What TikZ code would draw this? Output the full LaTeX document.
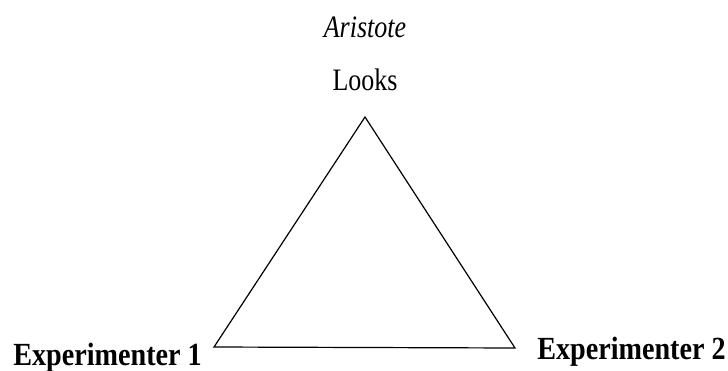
\documentclass[tikz,border=0pt]{standalone}
\usepackage{fontspec}
\setmainfont{Liberation Serif}
\usetikzlibrary{positioning}

\begin{document}
\begin{tikzpicture}[x=0.75pt, y=-0.75pt,
        node distance=4mm,
        corner/.style={font=\fontsize{22}{24}\selectfont\bfseries, inner sep=0pt,
                       transform shape, xscale=0.96, yscale=1.1},
        top/.style={font=\fontsize{19.5}{22}\selectfont, inner sep=0pt,
                    transform shape, yscale=1.2},
        side/.style={line width=0.9pt, line join=miter}
      ]
      \useasboundingbox (0,0) rectangle (728,371);
      \coordinate (apex) at (365,117);
      \coordinate (left) at (214,347);
      \coordinate (right) at (515,348);

      \node[top, anchor=base] (looks) at (365,90) {Looks};
      \node[top, anchor=base, font=\fontsize{19.5}{22}\selectfont\itshape] (ari) at (365,37) {Aristote};
      \node[corner, anchor=base east] (exp1) at (202,365) {Experimenter 1};
      \node[corner, anchor=base west] (exp2) at (537,359) {Experimenter 2};

      \draw[side] (apex) -- (left) -- (right) -- cycle;
    \end{tikzpicture}
\end{document}
